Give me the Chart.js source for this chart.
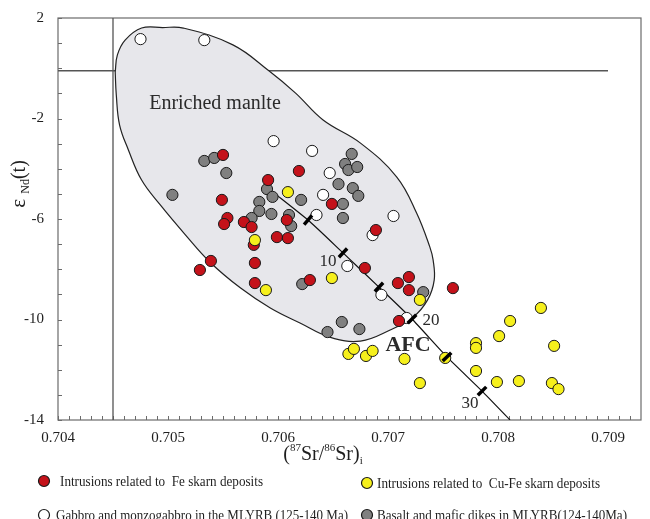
<!DOCTYPE html>
<html>
<head>
<meta charset="utf-8">
<script src="https://cdn.jsdelivr.net/npm/chart.js@4.4.1/dist/chart.umd.min.js"></script>
<style>
  html, body { margin: 0; padding: 0; background: #fff; }
  #wrap { width: 650px; height: 519px; position: relative; }
</style>
</head>
<body>
<div id="wrap"><canvas id="chart"></canvas></div>
<script>
// Intrusions related to Fe skarn deposits (red)
const feSr = [0.70550, 0.70591, 0.70619, 0.70549, 0.70554, 0.70551, 0.70569, 0.70576, 0.70608, 0.70599, 0.70609, 0.70578, 0.70579,
  0.70539, 0.70529, 0.70579, 0.70629, 0.70649, 0.70689, 0.70679, 0.70719, 0.70709, 0.70719, 0.70759, 0.70710];
const feNd = [-3.45, -4.45, -4.09, -5.24, -5.96, -6.20, -6.12, -6.32, -6.04, -6.72, -6.76, -7.03, -7.75,
  -7.67, -8.03, -8.55, -8.43, -5.40, -6.44, -7.95, -8.31, -8.55, -8.83, -8.75, -10.06];

// Intrusions related to Cu-Fe skarn deposits (yellow)
const cuSr = [0.70609, 0.70579, 0.70589, 0.70649, 0.70729, 0.70664, 0.70669, 0.70680, 0.70686, 0.70715, 0.70729, 0.70752,
  0.70839, 0.70811, 0.70801, 0.70780, 0.70780, 0.70851, 0.70780, 0.70799, 0.70819, 0.70849, 0.70855];
const cuNd = [-4.93, -6.84, -8.83, -8.35, -9.22, -11.37, -11.17, -11.45, -11.25, -11.57, -12.53, -11.53,
  -9.54, -10.06, -10.66, -10.94, -11.13, -11.05, -12.05, -12.49, -12.45, -12.53, -12.77];

// Gabbro and monzogabbro (open)
const gabbroSr = [0.70475, 0.70533, 0.70596, 0.70631, 0.70647, 0.70641, 0.70635, 0.70705, 0.70686, 0.70663, 0.70694, 0.70717];
const gabbroNd = [1.16, 1.12, -2.90, -3.29, -4.17, -5.04, -5.84, -5.88, -6.64, -7.87, -9.02, -9.94];

// Basalt and mafic dikes (gray)
const basaltSr = [0.70533, 0.70542, 0.70553, 0.70504, 0.70590, 0.70595, 0.70583, 0.70583, 0.70594, 0.70576, 0.70610, 0.70612,
  0.70621, 0.70622, 0.70667, 0.70661, 0.70664, 0.70672, 0.70655, 0.70668, 0.70673, 0.70659, 0.70659, 0.70732, 0.70658, 0.70645, 0.70674];
const basaltNd = [-3.69, -3.57, -4.17, -5.04, -4.81, -5.12, -5.32, -5.68, -5.80, -5.96, -5.84, -6.28,
  -5.24, -8.59, -3.41, -3.81, -4.05, -3.93, -4.61, -4.77, -5.08, -5.40, -5.96, -8.91, -10.10, -10.50, -10.38];

// enriched mantle field outline
const fieldSr = [0.70452, 0.70453, 0.70456, 0.70464, 0.70476, 0.70493, 0.70516, 0.70538, 0.70566, 0.70593, 0.70620, 0.70647,
  0.70675, 0.70702, 0.70723, 0.70736, 0.70742, 0.70741, 0.70738, 0.70726, 0.70708, 0.70675, 0.70641, 0.70616, 0.70592,
  0.70559, 0.70514, 0.70495, 0.70476, 0.70461, 0.70454, 0.70452];
const fieldNd = [-0.15, -1.07, -2.26, -3.25, -4.45, -5.44, -6.64, -7.71, -8.75, -9.54, -10.14, -10.70,
  -10.86, -10.42, -9.90, -9.22, -8.43, -7.63, -7.11, -5.76, -4.33, -2.98, -2.06, -0.99, -0.11,
  0.93, 1.60, 1.62, 1.60, 1.12, 0.53, -0.15];

// AFC curve, ticks every 5 %
const afcSr = [0.705955, 0.706273, 0.706591, 0.706918, 0.707218, 0.707536, 0.707855, 0.708109];
const afcNd = [-4.93, -6.04, -7.35, -8.71, -9.98, -11.49, -12.85, -14.0];
const afcTickIdx = [1, 2, 3, 4, 5, 6];

// reference lines
const refSr = 0.7045;
const refNd = -0.1;

const xTicks = [0.704, 0.705, 0.706, 0.707, 0.708, 0.709];
const yTicks = [2, -2, -6, -10, -14];

const RED = '#c4121a', YEL = '#f6f01c', GRY = '#808080', EDGE = '#1a1a1a';
const SERIF = '"Liberation Serif", "DejaVu Serif", serif';

function pts(xs, ys) { return xs.map((x, i) => ({ x: x, y: ys[i] })); }

function fitText(ctx, text, x, y, w) {
  const m = ctx.measureText(text).width;
  ctx.save();
  ctx.translate(x, y);
  ctx.scale(w / m, 1);
  ctx.fillText(text, 0, 0);
  ctx.restore();
}

const decorPlugin = {
  id: 'decor',
  beforeDatasetsDraw(chart) {
    const { ctx, chartArea: a, scales: { x, y } } = chart;
    ctx.save();
    ctx.strokeStyle = '#6b6b6b';
    ctx.lineWidth = 1.2;
    ctx.strokeRect(a.left, a.top, a.right - a.left, a.bottom - a.top);
    // minor ticks, inside
    ctx.lineWidth = 1;
    ctx.beginPath();
    for (let i = 0; i <= 53; i++) {
      const px = Math.round(x.getPixelForValue(0.704 + i * 0.0001)) + 0.5;
      if (px > a.right - 1) break;
      ctx.moveTo(px, a.bottom);
      ctx.lineTo(px, a.bottom - 4);
    }
    for (let v = -14; v <= 2; v++) {
      const py = Math.round(y.getPixelForValue(v)) + 0.5;
      ctx.moveTo(a.left, py);
      ctx.lineTo(a.left + 4, py);
    }
    ctx.stroke();
    ctx.restore();
  },
  afterDatasetsDraw(chart) {
    const { ctx, scales: { x, y } } = chart;
    // AFC tick marks
    ctx.save();
    ctx.strokeStyle = '#000';
    ctx.lineWidth = 3.5;
    afcTickIdx.forEach(i => {
      const px = x.getPixelForValue(afcSr[i]), py = y.getPixelForValue(afcNd[i]);
      const dx = x.getPixelForValue(afcSr[i + 1]) - x.getPixelForValue(afcSr[i - 1]);
      const dy = y.getPixelForValue(afcNd[i + 1]) - y.getPixelForValue(afcNd[i - 1]);
      const l = Math.hypot(dx, dy);
      const nx = -dy / l * 6, ny = dx / l * 6;
      ctx.beginPath();
      ctx.moveTo(px - nx, py - ny);
      ctx.lineTo(px + nx, py + ny);
      ctx.stroke();
    });
    ctx.restore();

    // text notes inside plot
    const notes = [
      { t: 'Enriched manlte', sr: 0.705427, nd: -1.42, f: '20px ' + SERIF },
      { t: 'AFC', sr: 0.707182, nd: -11.01, f: 'bold 22px ' + SERIF },
      { t: '10', sr: 0.706455, nd: -7.71, f: '17px ' + SERIF },
      { t: '20', sr: 0.707391, nd: -10.06, f: '17px ' + SERIF },
      { t: '30', sr: 0.707745, nd: -13.36, f: '17px ' + SERIF }
    ];
    ctx.save();
    ctx.fillStyle = '#2a2a2a';
    ctx.textAlign = 'center';
    ctx.textBaseline = 'middle';
    notes.forEach(n => {
      ctx.font = n.f;
      ctx.fillText(n.t, x.getPixelForValue(n.sr), y.getPixelForValue(n.nd));
    });
    ctx.restore();
  },
  afterDraw(chart) {
    const { ctx } = chart;
    ctx.save();
    ctx.fillStyle = '#1e1e1e';
    ctx.textBaseline = 'alphabetic';

    // x title: (87Sr/86Sr)i
    const parts = [['(', 20, 0], ['87', 11, -9], ['Sr/', 20, 0], ['86', 11, -9], ['Sr)', 20, 0], ['i', 11, 4]];
    let total = 0;
    parts.forEach(p => { ctx.font = p[1] + 'px ' + SERIF; total += ctx.measureText(p[0]).width; });
    let cx = 323 - total / 2;
    parts.forEach(p => {
      ctx.font = p[1] + 'px ' + SERIF;
      ctx.fillText(p[0], cx, 460 + p[2]);
      cx += ctx.measureText(p[0]).width;
    });

    // y title: ε Nd(t)
    ctx.save();
    ctx.translate(25, 184);
    ctx.rotate(-Math.PI / 2);
    const yp = [['ε ', 21, 0], ['Nd', 12, 4], ['(t)', 20, 0]];
    total = 0;
    yp.forEach(p => { ctx.font = p[1] + 'px ' + SERIF; total += ctx.measureText(p[0]).width; });
    cx = -total / 2;
    yp.forEach(p => {
      ctx.font = p[1] + 'px ' + SERIF;
      ctx.fillText(p[0], cx, p[2]);
      cx += ctx.measureText(p[0]).width;
    });
    ctx.restore();

    // legend
    const items = [
      { t: 'Intrusions related to  Fe skarn deposits', c: RED, cx: 44, cy: 481, tx: 60, ty: 486, w: 203 },
      { t: 'Intrusions related to  Cu-Fe skarn deposits', c: YEL, cx: 367, cy: 483, tx: 377, ty: 488, w: 223 },
      { t: 'Gabbro and monzogabbro in the MLYRB (125-140 Ma)', c: '#fff', cx: 44, cy: 515, tx: 56, ty: 520, w: 292 },
      { t: 'Basalt and mafic dikes in MLYRB(124-140Ma)', c: GRY, cx: 367, cy: 515, tx: 377, ty: 520, w: 250 }
    ];
    ctx.font = '14px ' + SERIF;
    items.forEach(it => {
      ctx.beginPath();
      ctx.arc(it.cx, it.cy, 5.5, 0, Math.PI * 2);
      ctx.fillStyle = it.c;
      ctx.fill();
      ctx.lineWidth = 1.2;
      ctx.strokeStyle = EDGE;
      ctx.stroke();
      ctx.fillStyle = '#1e1e1e';
      fitText(ctx, it.t, it.tx, it.ty, it.w);
    });
    ctx.restore();
  }
};

function pointSet(label, xs, ys, color, order) {
  return {
    label: label,
    data: pts(xs, ys),
    backgroundColor: color,
    borderColor: EDGE,
    borderWidth: 1,
    pointRadius: 5.6,
    pointHoverRadius: 5.6,
    order: order
  };
}

new Chart(document.getElementById('chart'), {
  type: 'scatter',
  data: {
    datasets: [
      pointSet('Intrusions related to Cu-Fe skarn deposits', cuSr, cuNd, YEL, 1),
      pointSet('Intrusions related to Fe skarn deposits', feSr, feNd, RED, 2),
      pointSet('Basalt and mafic dikes in MLYRB(124-140Ma)', basaltSr, basaltNd, GRY, 3),
      pointSet('Gabbro and monzogabbro in the MLYRB (125-140 Ma)', gabbroSr, gabbroNd, '#ffffff', 4),
      {
        label: 'AFC',
        data: pts(afcSr, afcNd),
        showLine: true,
        borderColor: '#111',
        borderWidth: 1.2,
        pointRadius: 0,
        tension: 0.2,
        order: 5
      },
      {
        label: 'ref-v',
        data: [{ x: refSr, y: 2 }, { x: refSr, y: -14 }],
        showLine: true,
        borderColor: '#555',
        borderWidth: 1.3,
        pointRadius: 0,
        order: 7
      },
      {
        label: 'ref-h',
        data: [{ x: 0.704, y: refNd }, { x: 0.709, y: refNd }],
        showLine: true,
        borderColor: '#555',
        borderWidth: 1.3,
        pointRadius: 0,
        order: 7
      },
      {
        label: 'Enriched mantle',
        data: pts(fieldSr, fieldNd),
        showLine: true,
        fill: 'shape',
        backgroundColor: '#e7e7eb',
        borderColor: '#222',
        borderWidth: 1.2,
        pointRadius: 0,
        tension: 0.4,
        order: 6
      }
    ]
  },
  options: {
    responsive: true,
    maintainAspectRatio: false,
    animation: false,
    events: [],
    layout: { padding: { left: 0, top: 18, right: 9, bottom: 0 } },
    plugins: { legend: { display: false }, tooltip: { enabled: false } },
    scales: {
      x: {
        type: 'linear',
        min: 0.704,
        max: 0.7093,
        grid: { display: false, drawTicks: false },
        border: { display: false },
        afterBuildTicks: s => { s.ticks = xTicks.map(v => ({ value: v })); },
        afterFit: s => { s.height = 99; s.paddingLeft = 0; s.paddingRight = 0; },
        ticks: {
          padding: 9,
          autoSkip: false,
          maxRotation: 0,
          color: '#1e1e1e',
          font: { family: SERIF, size: 15 },
          callback: v => v.toFixed(3)
        }
      },
      y: {
        type: 'linear',
        min: -14,
        max: 2,
        grid: { display: false, drawTicks: false },
        border: { display: false },
        afterBuildTicks: s => { s.ticks = yTicks.map(v => ({ value: v })); },
        afterFit: s => { s.width = 58; s.paddingTop = 0; s.paddingBottom = 0; },
        ticks: {
          padding: 14,
          color: '#1e1e1e',
          font: { family: SERIF, size: 15 },
          callback: v => String(v)
        }
      }
    }
  },
  plugins: [decorPlugin]
});
</script>
</body>
</html>
